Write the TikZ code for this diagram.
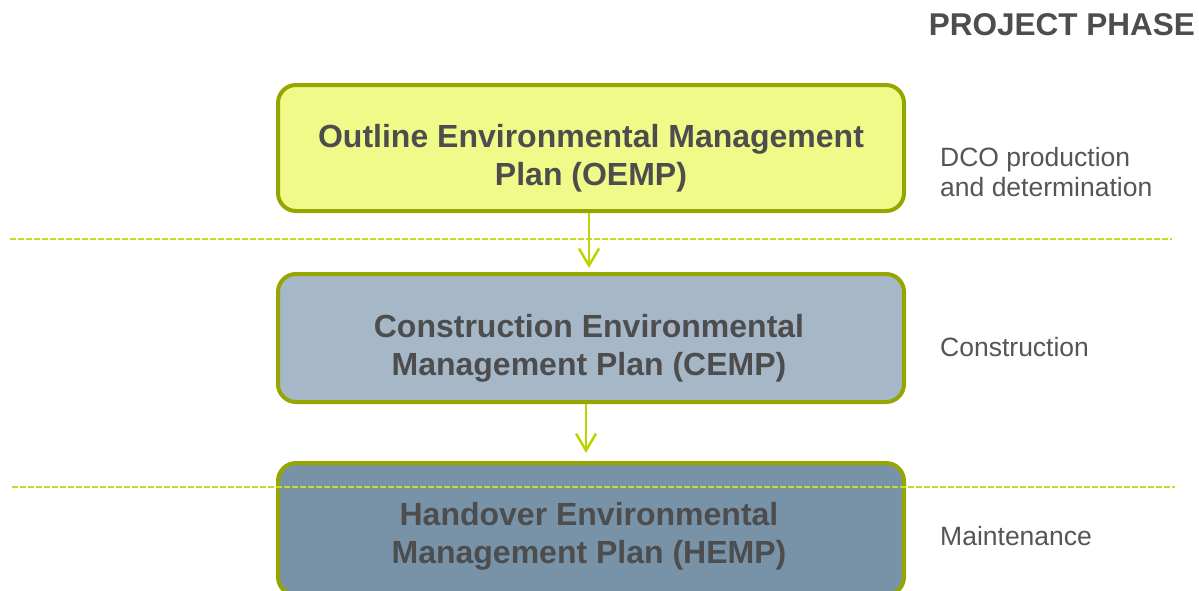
\documentclass[tikz,border=0pt]{standalone}
\usepackage{fontspec}
\setmainfont{Liberation Sans}
\usetikzlibrary{arrows.meta}

\newlength{\du}
\setlength{\du}{1pt}

\definecolor{planborder}{RGB}{150,166,0}
\definecolor{oempfill}{RGB}{240,250,136}
\definecolor{cempfill}{RGB}{166,184,200}
\definecolor{hempfill}{RGB}{120,146,168}
\definecolor{plangray}{RGB}{77,77,77}
\definecolor{phasegray}{RGB}{85,85,85}
\definecolor{dashgreen}{RGB}{200,218,40}
\definecolor{arrowgreen}{RGB}{190,212,0}

\tikzset{
  planbox/.style={draw=planborder, line width=4\du, rounded corners=18\du,
    minimum width=626\du, minimum height=128\du, inner sep=0pt},
  plantext/.style={text=plangray, align=center, inner sep=0pt,
    font=\fontsize{32}{38}\selectfont\bfseries},
  phasetext/.style={anchor=west, inner sep=0pt, text=phasegray, align=left,
    font=\fontsize{26.5}{30}\selectfont},
  phaseline/.style={draw=dashgreen, line width=2.2\du, dash pattern=on 6\du off 2\du},
  flow/.style={draw=arrowgreen, line width=2.5\du,
    -{Straight Barb[length=17pt,width=20pt]}}
}

\begin{document}
\begin{tikzpicture}
\pgftransformxscale{1.000000}
\pgftransformyscale{-1.000000}
\useasboundingbox (0\du,0\du) rectangle (1199\du,590\du);
\clip (0\du,0\du) rectangle (1199\du,590\du);

% plan boxes
\node[planbox, fill=oempfill, minimum height=126\du] (oemp) at (591\du,148\du) {};
\node[planbox, fill=cempfill] (cemp) at (591\du,338\du) {};
\node[planbox, fill=hempfill, minimum height=132\du] (hemp) at (591\du,529\du) {};

% phase separators
\draw[phaseline] (10\du,239\du) -- (1172\du,239\du);
\draw[phaseline] (12\du,487\du) -- (1175\du,487\du);

% box labels
\node[plantext] (oemptext) at (591\du,158\du) {Outline Environmental Management\\Plan (OEMP)};
\node[plantext] (cemptext) at (589\du,348\du) {Construction Environmental\\Management Plan (CEMP)};
\node[plantext] (hemptext) at (589\du,536\du) {Handover Environmental\\Management Plan (HEMP)};

% flow between plans
\draw[flow, shorten >=4pt] ([xshift=-2pt]oemp.south) -- ([xshift=-2pt]cemp.north);
\draw[flow, shorten >=8pt] ([xshift=-5pt]cemp.south) -- ([xshift=-5pt]hemp.north);

% project phases
\node[anchor=east, inner sep=0pt, text=plangray, font=\fontsize{31.5}{38}\selectfont\bfseries] (phasehead) at (1195\du,25\du) {PROJECT PHASE};
\node[phasetext] (dco) at (940\du,172\du) {DCO production\\and determination};
\node[phasetext] (construction) at (940\du,347\du) {Construction};
\node[phasetext] (maintenance) at (940\du,536\du) {Maintenance};
\end{tikzpicture}
\end{document}
